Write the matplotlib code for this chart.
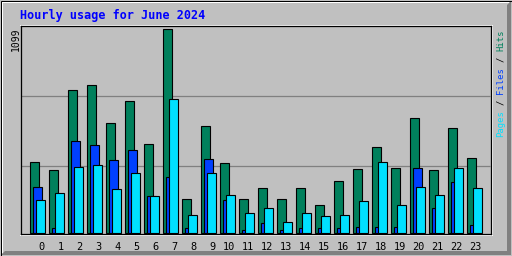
import matplotlib
matplotlib.use('Agg')
import matplotlib.pyplot as plt
from matplotlib.patches import Polygon, Rectangle
from matplotlib.transforms import blended_transform_factory
import numpy as np

# ---- data ----
hours = list(range(24))
hour_labels = [str(h) for h in hours]
hits = [384, 341, 773, 800, 595, 714, 481, 1099, 184, 578, 378, 184,
        243, 184, 243, 151, 281, 346, 465, 351, 622, 341, 568, 405]
files = [249, 27, 497, 476, 395, 449, 195, 303, 27, 400, 178, 16,
         49, 12, 27, 27, 22, 32, 32, 32, 351, 130, 276, 43]
pages = [178, 216, 357, 364, 238, 324, 195, 724, 97, 324, 205, 103,
         130, 59, 108, 92, 97, 168, 384, 151, 249, 205, 351, 243]
title = "Hourly usage for June 2024"
max_label = "1099"
legend_parts = [("Pages", "#00E0FF"), ("/", "#000000"), ("Files", "#0040FF"),
                ("/", "#000000"), ("Hits", "#00805C")]

C_HITS, C_FILES, C_PAGES = "#00805C", "#0040FF", "#00E0FF"
BG = "#C0C0C0"
MONO = "DejaVu Sans Mono"

W, H = 512, 256
fig = plt.figure(figsize=(5.12, 2.56), dpi=100)
fig.patch.set_facecolor(BG)

# background axes in pixel coordinates (y downward)
bg = fig.add_axes([0, 0, 1, 1])
bg.set_xlim(0, W)
bg.set_ylim(H, 0)
bg.axis('off')

# outer bevel
bg.add_patch(Polygon([(1, 1), (W - 1, 1), (W - 3, 3), (3, 3), (3, H - 3), (1, H - 1)],
                     closed=True, facecolor='white', edgecolor='none'))
bg.add_patch(Polygon([(W - 1, 1), (W - 1, H - 1), (1, H - 1), (5, H - 5), (W - 5, H - 5), (W - 5, 5)],
                     closed=True, facecolor='#808080', edgecolor='none'))
bg.add_patch(Rectangle((0.5, 0.5), W - 1, H - 1, fill=False, edgecolor='black', lw=0.72))

# plot frame highlight (white) lines
bg.plot([20, 492], [24.5, 24.5], color='white', lw=0.72)
bg.plot([491.5, 491.5], [24.5, 235], color='white', lw=0.72)
bg.plot([20, 492], [234.5, 234.5], color='white', lw=0.72)

# gridlines
bg.hlines([95.5, 165.5], 21, 490, color='#808080', lw=0.9)

# title
bg.text(20, 19.5, title, color='#0000FF', fontsize=8.5, fontweight='bold',
        family=MONO, va='baseline', ha='left')

# max label on left
bg.text(15.5, 27.5, max_label, rotation=90, ha='center', va='top',
        fontsize=7, family=MONO, color='black')

# right legend (reading bottom-to-top)
adv = 5.35
y0 = 137
k = 0
for txt, col in legend_parts:
    bg.text(500.5, y0 - k * adv, txt, rotation=90, ha='center', va='bottom',
            fontsize=6.4, family=MONO, color=col)
    k += len(txt) + 1
    if txt != "/":
        pass

# ---- plot axes ----
px_left, px_right, px_top, px_bot = 20.5, 490.5, 25.5, 233.5
ax = fig.add_axes([px_left / W, (H - px_bot) / H, (px_right - px_left) / W, (px_bot - px_top) / H])
ax.patch.set_visible(False)
for s in ax.spines.values():
    s.set_color('black')
    s.set_linewidth(0.9)
ax.set_xticks([])
ax.set_yticks([])

step = 19.0          # pixels per hour
g0 = 34.3            # pixel center of first hits bar
ax.set_xlim((px_left - g0) / step, (px_right - g0) / step)
vmax = max(hits)
top_px, zero_px = 29.5, 232.5
upp = vmax / (zero_px - top_px)
ax.set_ylim(-(px_bot - zero_px) * upp, vmax + (top_px - px_top) * upp)

x = np.array(hours, dtype=float)
bw = 9.0 / step
ax.bar(x, hits, width=bw, color=C_HITS, edgecolor='black', linewidth=0.8)
ax.bar(x + 3 / step, files, width=bw, color=C_FILES, edgecolor='black', linewidth=0.8)
ax.bar(x + 6 / step, pages, width=bw, color=C_PAGES, edgecolor='black', linewidth=0.8)

# hour labels
tr = blended_transform_factory(ax.transData, bg.transData)
for h, lab in zip(hours, hour_labels):
    ax.text(h + 10.5 / step, 249.5, lab, transform=tr, ha='right', va='baseline',
            fontsize=7.4, family=MONO, color='black', clip_on=False)

fig.savefig('out.png', dpi=100, facecolor=BG)
